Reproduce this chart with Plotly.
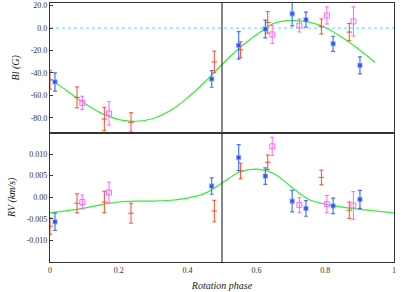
import plotly.graph_objects as go
from plotly.subplots import make_subplots

# ---- data: longitudinal field Bl (G) ----
red_phase = [0.0, 0.0785, 0.158, 0.2355, 0.4777, 0.554, 0.633, 0.789, 0.870]
red_bl = [-46, -61.7, -81, -84, -30.2, -19.3, 5.0, 1.4, -3.6]
red_bl_err = [8.4, 9.3, 10.4, 8.6, 9.6, 7.1, 9.6, 6.7, 7.7]
red_rv = [-0.0067, -0.0014, -0.0011, -0.0037, -0.0032, 0.0061, 0.0081, 0.0046, -0.0030]
red_rv_err = [0.0019, 0.0022, 0.0025, 0.0023, 0.0025, 0.0018, 0.0017, 0.0017, 0.0019]

blue_phase = [0.0145, 0.470, 0.5485, 0.626, 0.704, 0.744, 0.823, 0.901]
blue_bl = [-48, -45.3, -15.4, -0.9, 12.7, 7.4, -14.0, -33.2]
blue_bl_err = [8.1, 7.4, 12.3, 7.9, 10.7, 6.7, 6.7, 7.6]
blue_rv = [-0.0057, 0.0026, 0.0092, 0.0049, -0.0009, -0.0026, -0.0020, -0.0005]
blue_rv_err = [0.0020, 0.0019, 0.0030, 0.0019, 0.0025, 0.0018, 0.0018, 0.0021]

mag_phase = [0.094, 0.1715, 0.646, 0.725, 0.805, 0.882]
mag_bl = [-66.7, -76, -5.7, 2.3, 11.2, 5.9]
mag_bl_err = [6.0, 10.4, 8.1, 5.8, 7.6, 13.0]
mag_rv = [-0.0011, 0.0011, 0.0118, -0.0018, -0.0016, -0.0019]
mag_rv_err = [0.0016, 0.0024, 0.0021, 0.0017, 0.0020, 0.0032]

# model curves
bl_model_phase = [0.0, 0.05, 0.10, 0.15, 0.20, 0.25, 0.30, 0.35, 0.40, 0.45, 0.50,
                  0.55, 0.60, 0.65, 0.70, 0.75, 0.80, 0.85, 0.90, 0.945]
bl_model = [-45.5, -56, -67, -76, -81.5, -83, -80.5, -73.5, -62, -48, -32.5,
            -18, -6, 4, 6.8, 5.5, 0.5, -8.5, -19.5, -30.5]
rv_model_phase = [0.0, 0.05, 0.10, 0.15, 0.20, 0.25, 0.30, 0.35, 0.40, 0.45, 0.50,
                  0.55, 0.60, 0.65, 0.70, 0.75, 0.80, 0.85, 0.90, 0.95, 1.0]
rv_model = [-0.0036, -0.0031, -0.0025, -0.0017, -0.0011, -0.0009, -0.0009, -0.0007,
            -0.0002, 0.0009, 0.0033, 0.0058, 0.0065, 0.0055, 0.0025, -0.0004,
            -0.0016, -0.0023, -0.0028, -0.0032, -0.0036]

x_ticks = [0, 0.2, 0.4, 0.6, 0.8, 1]
x_tick_text = ["0", "0.2", "0.4", "0.6", "0.8", "1"]
bl_ticks = [-80, -60, -40, -20, 0, 20]
bl_tick_text = ["-80.0", "-60.0", "-40.0", "-20.0", "0.0", "20.0"]
rv_ticks = [-0.010, -0.005, 0.0, 0.005, 0.010]
rv_tick_text = ["-0.010", "-0.005", "0.00", "0.005", "0.010"]

RED = "#ff4a2a"
BLUE = "#2250ff"
MAG = "#ff66ff"
GREEN = "#33ee33"
AX = "#333333"

fig = make_subplots(rows=2, cols=1, shared_xaxes=True, vertical_spacing=0)

def add_sets(row, yr, yrerr, yb, yberr, ym, ymerr, model_x, model_y):
    if row == 1:
        fig.add_trace(go.Scatter(x=[0, 1], y=[0, 0],
                                 mode="lines", line=dict(color="#55ddff", width=1, dash="dot"),
                                 showlegend=False, hoverinfo="skip"), row=row, col=1)
    fig.add_trace(go.Scatter(x=model_x, y=model_y, mode="lines",
                             line=dict(color=GREEN, width=1.2, shape="spline"),
                             showlegend=False), row=row, col=1)
    fig.add_trace(go.Scatter(x=red_phase, y=yr, mode="markers",
                             error_y=dict(type="data", array=yrerr, color=RED, thickness=1, width=2),
                             marker=dict(symbol="line-ew", size=4, color=RED,
                                         line=dict(color=RED, width=1)),
                             showlegend=False), row=row, col=1)
    fig.add_trace(go.Scatter(x=mag_phase, y=ym, mode="markers",
                             error_y=dict(type="data", array=ymerr, color=MAG, thickness=1, width=2),
                             marker=dict(symbol="square-open", size=5, color=MAG,
                                         line=dict(color=MAG, width=1)),
                             showlegend=False), row=row, col=1)
    fig.add_trace(go.Scatter(x=blue_phase, y=yb, mode="markers",
                             error_y=dict(type="data", array=yberr, color="rgba(40,90,255,0.85)",
                                          thickness=1.2, width=2),
                             marker=dict(symbol="square", size=4, color=BLUE,
                                         line=dict(color="rgba(120,150,255,0.7)", width=1.2)),
                             showlegend=False), row=row, col=1)

add_sets(1, red_bl, red_bl_err, blue_bl, blue_bl_err, mag_bl, mag_bl_err, bl_model_phase, bl_model)
add_sets(2, red_rv, red_rv_err, blue_rv, blue_rv_err, mag_rv, mag_rv_err, rv_model_phase, rv_model)

tickfont = dict(family="Liberation Serif", size=8, color=AX)
titlefont = dict(family="Liberation Serif", size=10, color="#222")
axis_common = dict(showline=True, linecolor=AX, linewidth=1.2, mirror=True,
                   showgrid=False, zeroline=False, tickfont=tickfont, automargin=False)

fig.update_xaxes(range=[0, 1], ticks="", tickvals=x_ticks, ticktext=x_tick_text,
                 **axis_common)
fig.update_xaxes(title=dict(text="<i>Rotation phase</i>", font=titlefont, standoff=8),
                 row=2, col=1)
fig.update_yaxes(ticks="inside", ticklen=3, tickcolor=AX, **axis_common)
fig.update_yaxes(range=[-93, 22.3], tickvals=bl_ticks, ticktext=bl_tick_text,
                 title=dict(text="<i>Bl (G)</i>", font=titlefont, standoff=9), row=1, col=1)
fig.update_yaxes(range=[-0.015, 0.015], tickvals=rv_ticks, ticktext=rv_tick_text,
                 title=dict(text="<i>RV (km/s)</i>", font=titlefont, standoff=9), row=2, col=1)

fig.add_shape(type="line", xref="x", yref="paper", x0=0.5, x1=0.5, y0=0, y1=1,
              line=dict(color=AX, width=1.2))

fig.update_layout(width=415, height=292, margin=dict(l=50, r=21, t=3, b=30),
                  plot_bgcolor="white", paper_bgcolor="white")

fig.write_html("out.html", config={"displayModeBar": False},
               post_script="document.body.style.margin='0';")
